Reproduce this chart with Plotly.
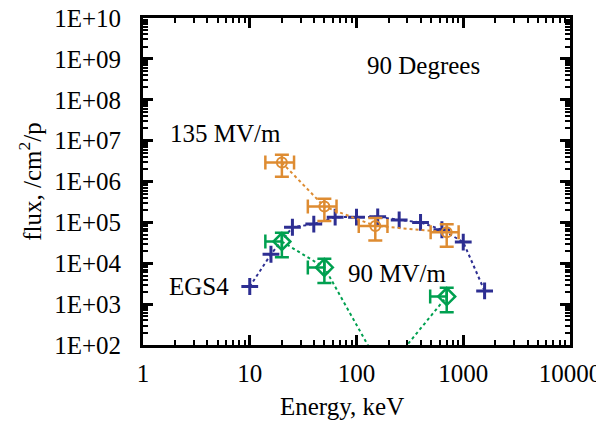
import plotly.graph_objects as go

# EGS4 simulation (blue crosses)
egs_E = [10, 15.8, 25.1, 39.8, 63.1, 100, 158, 251, 398, 631, 1000, 1585]
egs_flux = [2.7e3, 1.66e4, 7.6e4, 9.1e4, 1.34e5, 1.34e5, 1.37e5, 1.15e5, 1.0e5, 6.6e4, 3.3e4, 2.1e3]

# 135 MV/m measurement (orange circles)
o_E = [20, 50, 150, 700]
o_flux = [2.9e6, 2.43e5, 8.2e4, 5.75e4]
o_flux_err = [1.6e6, 1.35e5, 4.6e4, 3.2e4]
o_E_err = [6, 15, 45, 205]

# 90 MV/m measurement (green diamonds)
g_E = [20, 50, 180, 700]
g_flux = [3.4e4, 7.9e3, 20, 1.53e3]
g_flux_err_plus = [2.2e4, 5.0e3, 12, 1.0e3]
g_flux_err_minus = [2.0e4, 4.6e3, 12, 0.9e3]
g_E_err_minus = [6, 15, 54, 210]

x_tickvals = [1, 10, 100, 1000, 10000]
x_ticktext = ["1", "10", "100", "1000", "10000"]
y_tickvals = [1e2, 1e3, 1e4, 1e5, 1e6, 1e7, 1e8, 1e9, 1e10]
y_ticktext = ["1E+02", "1E+03", "1E+04", "1E+05", "1E+06", "1E+07", "1E+08", "1E+09", "1E+10"]

ORANGE = "#de8c32"
GREEN = "#00a050"
BLUE = "#2d2e92"
FONT = "Liberation Serif"
FS = 25

fig = go.Figure()

fig.add_trace(go.Scatter(
    x=egs_E, y=egs_flux, mode="lines+markers",
    line=dict(color=BLUE, width=2, dash="dot"),
    marker=dict(symbol="cross-thin", size=12, line=dict(color=BLUE, width=3)),
    showlegend=False))

fig.add_trace(go.Scatter(
    x=o_E, y=o_flux, mode="lines+markers",
    line=dict(color=ORANGE, width=2, dash="dot"),
    marker=dict(symbol="circle-open", size=10, color=ORANGE, line=dict(width=2)),
    error_y=dict(type="data", array=o_flux_err, color=ORANGE, thickness=2.5, width=7),
    error_x=dict(type="data", array=o_E_err, color=ORANGE, thickness=2.5, width=7),
    showlegend=False))

fig.add_trace(go.Scatter(
    x=g_E, y=g_flux, mode="lines+markers",
    line=dict(color=GREEN, width=2, dash="dot"),
    marker=dict(symbol="diamond-open", size=13, color=GREEN, line=dict(width=2.5)),
    error_y=dict(type="data", symmetric=False, array=g_flux_err_plus,
                 arrayminus=g_flux_err_minus, color=GREEN, thickness=2.5, width=7),
    error_x=dict(type="data", symmetric=False, array=[0, 0, 0, 0],
                 arrayminus=g_E_err_minus, color=GREEN, thickness=2.5, width=7),
    showlegend=False))

def minor_vals(lo, hi):
    out = []
    for d in range(lo, hi):
        for m in range(2, 10):
            out.append(m * 10 ** d)
    return out

axis_common = dict(
    type="log", showline=True, linecolor="black", linewidth=3, mirror="ticks",
    ticks="inside", ticklen=10, tickwidth=2.5, tickcolor="black",
    showgrid=False, zeroline=False, tickmode="array", automargin=False,
    ticklabeloverflow="allow",
    tickfont=dict(family=FONT, size=FS, color="black"),
)

fig.update_xaxes(
    **axis_common, range=[0, 4], tickvals=x_tickvals, ticktext=x_ticktext,
    minor=dict(ticks="inside", ticklen=5, tickwidth=2, tickcolor="black",
               tickmode="array", tickvals=minor_vals(0, 4)),
    ticklabelstandoff=4,
)
fig.update_yaxes(
    **axis_common, range=[2, 10], tickvals=y_tickvals, ticktext=y_ticktext,
    minor=dict(ticks="inside", ticklen=5, tickwidth=2, tickcolor="black",
               tickmode="array", tickvals=minor_vals(2, 10)),
    title=dict(text="flux, /cm<sup>2</sup>/p", font=dict(family=FONT, size=FS, color="black"), standoff=6),
    ticklabelstandoff=14,
)

ann_font = dict(family=FONT, size=FS, color="black")
fig.add_annotation(text="Energy, keV", xref="paper", yref="paper", x=0.466, y=-0.187,
                   xanchor="center", yanchor="middle", showarrow=False, font=ann_font)
fig.add_annotation(text="90 Degrees", xref="paper", yref="paper", x=0.519, y=0.856,
                   xanchor="left", yanchor="middle", showarrow=False, font=ann_font)
fig.add_annotation(text="135 MV/m", xref="paper", yref="paper", x=0.058, y=0.648,
                   xanchor="left", yanchor="middle", showarrow=False, font=ann_font)
fig.add_annotation(text="EGS4", xref="paper", yref="paper", x=0.057, y=0.180,
                   xanchor="left", yanchor="middle", showarrow=False, font=ann_font)
fig.add_annotation(text="90 MV/m", xref="paper", yref="paper", x=0.475, y=0.220,
                   xanchor="left", yanchor="middle", showarrow=False, font=ann_font)

# the page body adds an 8 px offset, so the figure is 8 px smaller and margins shifted
fig.update_layout(
    template="none",
    width=596, height=414,
    margin=dict(l=135, r=34, t=10, b=77),
    paper_bgcolor="white", plot_bgcolor="white",
    font=dict(family=FONT, size=FS, color="black"),
)

fig.write_html("out.html")
